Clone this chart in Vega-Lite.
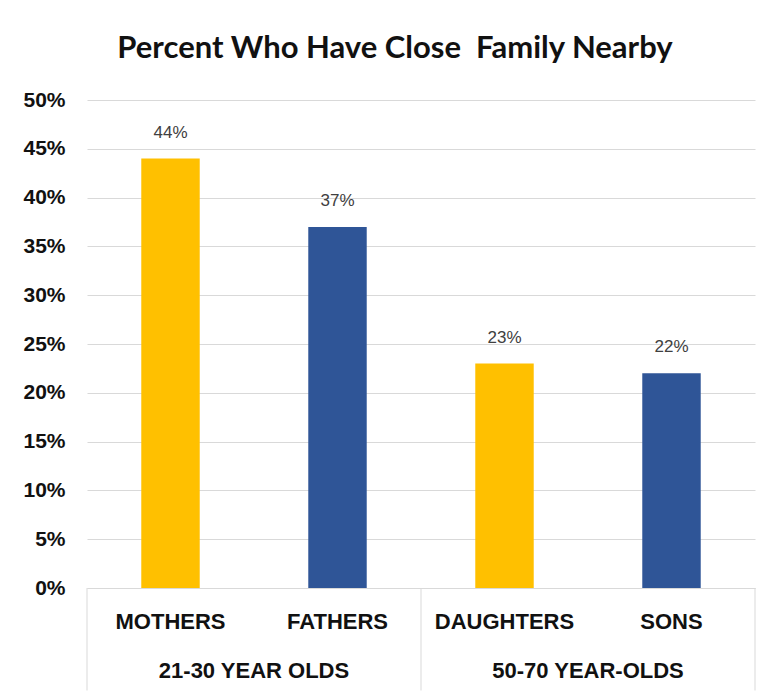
{
  "$schema": "https://vega.github.io/schema/vega-lite/v6.json",
  "autosize": "none",
  "width": 668,
  "height": 488,
  "padding": {"left": 87, "top": 100, "right": 14, "bottom": 110},
  "background": "white",
  "config": {"view": {"stroke": null}},
  "title": {
    "text": "Percent Who Have Close\u00a0 Family Nearby",
    "font": "Lato",
    "fontSize": 31,
    "fontWeight": "bold",
    "color": "#111111",
    "anchor": "middle",
    "dx": -26,
    "offset": 24
  },
  "datasets": {
    "bars": [
      {"category": "MOTHERS", "group": "21-30 YEAR OLDS", "gender": "F", "value": 0.44},
      {"category": "FATHERS", "group": "21-30 YEAR OLDS", "gender": "M", "value": 0.37},
      {"category": "DAUGHTERS", "group": "50-70 YEAR-OLDS", "gender": "F", "value": 0.23},
      {"category": "SONS", "group": "50-70 YEAR-OLDS", "gender": "M", "value": 0.22}
    ],
    "groups": [
      {"group": "21-30 YEAR OLDS", "anchor": "MOTHERS"},
      {"group": "50-70 YEAR-OLDS", "anchor": "DAUGHTERS"}
    ],
    "seps_left": [{"category": "MOTHERS"}, {"category": "DAUGHTERS"}],
    "seps_right": [{"category": "SONS"}]
  },
  "layer": [
    {
      "data": {"name": "bars"},
      "mark": {"type": "bar", "width": {"band": 0.35}},
      "encoding": {
        "x": {
          "field": "category", "type": "nominal", "sort": null,
          "scale": {"paddingInner": 0, "paddingOuter": 0},
          "axis": {
            "title": null, "ticks": false, "labelAngle": 0,
            "labelFont": "Liberation Sans", "labelFontWeight": "bold", "labelFontSize": 22,
            "labelColor": "#111111", "labelPadding": 33, "labelBaseline": "middle",
            "domainColor": "#d9d9d9", "domainWidth": 1
          }
        },
        "y": {
          "field": "value", "type": "quantitative",
          "scale": {"domain": [0, 0.5]},
          "axis": {
            "title": null, "format": ".0%",
            "values": [0, 0.05, 0.1, 0.15, 0.2, 0.25, 0.3, 0.35, 0.4, 0.45, 0.5],
            "labelOverlap": false,
            "domain": false, "ticks": false,
            "labelFont": "Liberation Sans", "labelFontWeight": "bold", "labelFontSize": 21,
            "labelColor": "#111111", "labelPadding": 22,
            "gridColor": "#d9d9d9", "gridWidth": 1
          }
        },
        "color": {
          "field": "gender", "type": "nominal",
          "scale": {"domain": ["F", "M"], "range": ["#FFC000", "#2F5597"]},
          "legend": null
        }
      }
    },
    {
      "data": {"name": "bars"},
      "mark": {"type": "text", "baseline": "middle", "dy": -26, "font": "Liberation Sans", "fontSize": 17, "color": "#404040"},
      "encoding": {
        "x": {"field": "category", "type": "nominal", "sort": null},
        "y": {"field": "value", "type": "quantitative"},
        "text": {"field": "value", "type": "quantitative", "format": ".0%"}
      }
    },
    {
      "data": {"name": "groups"},
      "mark": {"type": "text", "baseline": "middle", "font": "Liberation Sans", "fontWeight": "bold", "fontSize": 22, "color": "#111111"},
      "encoding": {
        "x": {"field": "anchor", "type": "nominal", "sort": null, "bandPosition": 1},
        "y": {"datum": -0.085},
        "text": {"field": "group"}
      }
    },
    {
      "data": {"name": "seps_left"},
      "mark": {"type": "rule", "color": "#d9d9d9", "strokeWidth": 1},
      "encoding": {
        "x": {"field": "category", "type": "nominal", "sort": null, "bandPosition": 0},
        "y": {"datum": 0},
        "y2": {"datum": -0.105}
      }
    },
    {
      "data": {"name": "seps_right"},
      "mark": {"type": "rule", "color": "#d9d9d9", "strokeWidth": 1},
      "encoding": {
        "x": {"field": "category", "type": "nominal", "sort": null, "bandPosition": 1},
        "y": {"datum": 0},
        "y2": {"datum": -0.105}
      }
    }
  ]
}
